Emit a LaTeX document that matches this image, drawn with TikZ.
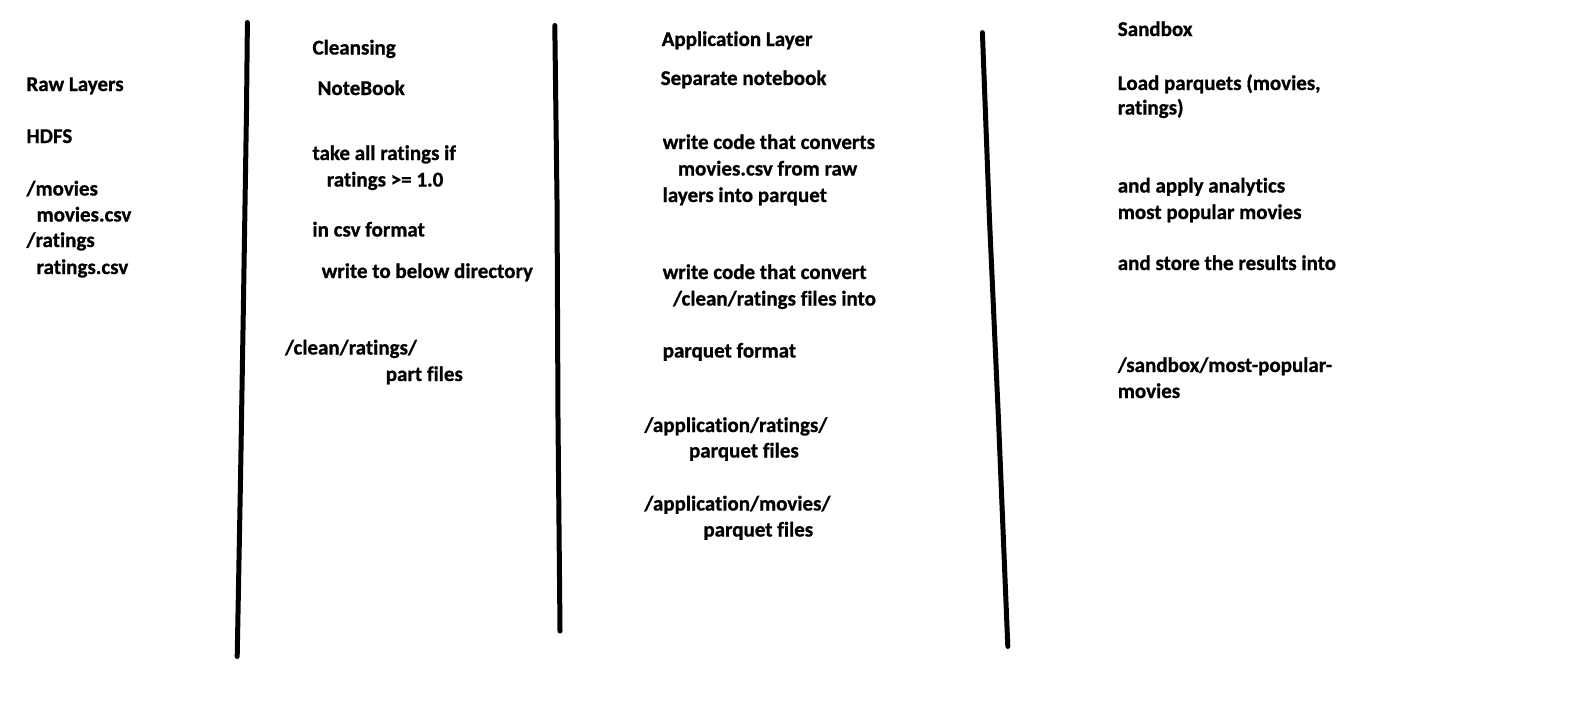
\documentclass[tikz,border=0pt]{standalone}
\usepackage{fontspec}
\setmainfont{Carlito}[Ligatures={NoCommon},RawFeature={-liga;-clig},BoldFeatures={FakeBold=0.8}]
\begin{document}
\begin{tikzpicture}[x=1pt,y=-1pt,
  txt/.style={anchor=base west,inner sep=0pt,outer sep=0pt,font=\fontsize{21}{27}\selectfont\bfseries},
  divider/.style={line width=5pt,line cap=round,line join=round,black}]
\useasboundingbox[fill=white] (0,0) rectangle (1594,723);
% column 1
\node[txt] (raw) at (26.5,91) {Raw Layers};
\node[txt] (hdfs) at (26.5,143) {HDFS};
\node[txt] (mdir) at (26.5,195.5) {/movies};
\node[txt] (mcsv) at (36.6,221.5) {movies.csv};
\node[txt] (rdir) at (26.5,247) {/ratings};
\node[txt] (rcsv) at (36.6,274) {ratings.csv};
% column 2
\node[txt] (cl) at (312.5,54.5) {Cleansing};
\node[txt] (nb) at (317.6,95) {NoteBook};
\node[txt] (take) at (312.5,160) {take all ratings if};
\node[txt] (cond) at (326.8,186.5) {ratings >= 1.0};
\node[txt] (csvf) at (312.5,236.5) {in csv format};
\node[txt] (wr) at (321.7,278) {write to below directory};
\node[txt] (cdir) at (285,354.5) {/clean/ratings/};
\node[txt] (part) at (385.8,381) {part files};
% column 3
\node[txt] (app) at (661.7,46) {Application Layer};
\node[txt] (sep) at (660.7,85) {Separate notebook};
\node[txt] (w1a) at (662.7,149) {write code that converts};
\node[txt] (w1b) at (678,175.5) {movies.csv from raw};
\node[txt] (w1c) at (662.7,202) {layers into parquet};
\node[txt] (w2a) at (662.7,279) {write code that convert};
\node[txt] (w2b) at (673,305.5) {/clean/ratings files into};
\node[txt] (pf) at (662.7,357.5) {parquet format};
\node[txt] (ar) at (644.4,432) {/application/ratings/};
\node[txt] (arp) at (689,457.5) {parquet files};
\node[txt] (am) at (644.4,510.5) {/application/movies/};
\node[txt] (amp) at (703.4,536.5) {parquet files};
% column 4
\node[txt] (sb) at (1117.8,36) {Sandbox};
\node[txt] (lp1) at (1117.8,90) {Load parquets (movies,};
\node[txt] (lp2) at (1117.8,114.5) {ratings)};
\node[txt] (an1) at (1117.8,192.5) {and apply analytics};
\node[txt] (an2) at (1117.8,219) {most popular movies};
\node[txt] (st) at (1117.8,270) {and store the results into};
\node[txt] (sd1) at (1117.8,372) {/sandbox/most-popular-};
\node[txt] (sd2) at (1117.8,398) {movies};
% dividers
\coordinate (d1t) at (247.4,22.5);  \coordinate (d1b) at (237.2,656.5);
\coordinate (d2t) at (554.8,25.5);  \coordinate (d2b) at (560,631);
\coordinate (d3t) at (982.4,32.6);  \coordinate (d3b) at (1007.8,646.4);
\draw[divider] (d1t) -- (246.5,110) -- (243.5,300) -- (240.5,480) -- (d1b);
\draw[divider] (d2t) -- (557,200) -- (558,420) -- (d2b);
\draw[divider] (d3t) -- (989.5,220) -- (998.5,420) -- (d3b);
\end{tikzpicture}
\end{document}
